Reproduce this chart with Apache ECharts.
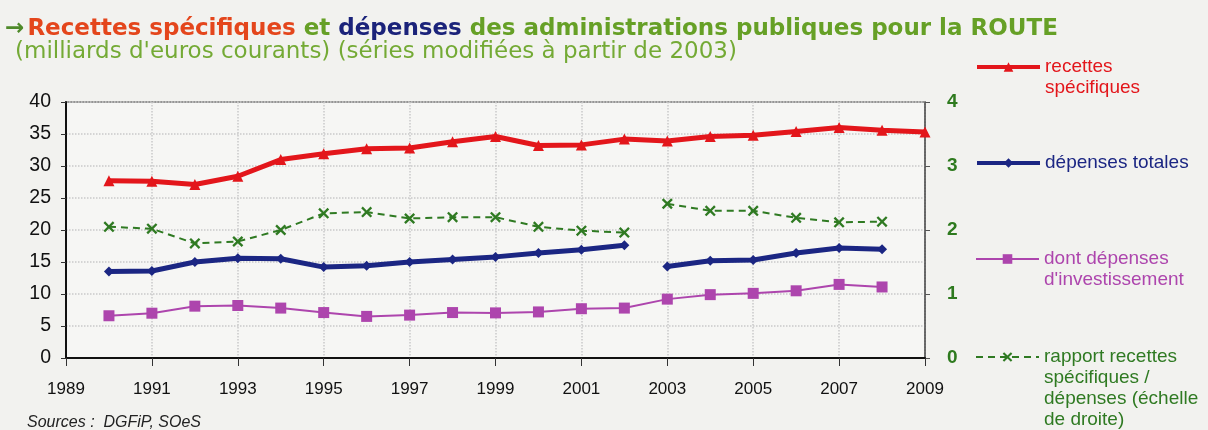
<!DOCTYPE html>
<html>
<head>
<meta charset="utf-8">
<script src="https://cdn.jsdelivr.net/npm/echarts@6/dist/echarts.min.js"></script>
<style>
html, body { margin: 0; padding: 0; background: #f2f2ef; }
#chart { width: 1208px; height: 430px; }
</style>
</head>
<body>
<div id="chart"></div>
<script>
// données (milliards d'euros courants)
var annees = ['1989', '1990', '1991', '1992', '1993', '1994', '1995', '1996', '1997', '1998', '1999',
    '2000', '2001', '2002', '2003', '2004', '2005', '2006', '2007', '2008', '2009'];
var recettes = [null, 27.7, 27.6, 27.1, 28.4, 31.0, 31.9, 32.7, 32.8, 33.8, 34.6,
    33.2, 33.3, 34.2, 33.9, 34.6, 34.8, 35.4, 36.0, 35.6, 35.3];
var depensesTotales = [null, 13.5, 13.6, 15.0, 15.6, 15.5, 14.2, 14.4, 15.0, 15.4, 15.8,
    16.4, 16.9, 17.6, 14.3, 15.2, 15.3, 16.4, 17.2, 17.0, null];
var depensesInvest = [null, 6.6, 7.0, 8.1, 8.2, 7.8, 7.1, 6.5, 6.7, 7.1, 7.05,
    7.2, 7.7, 7.8, 9.2, 9.9, 10.1, 10.5, 11.5, 11.1, null];
var rapport = [null, 2.05, 2.02, 1.79, 1.82, 2.00, 2.26, 2.28, 2.18, 2.20, 2.20,
    2.05, 1.99, 1.96, 2.41, 2.30, 2.30, 2.19, 2.12, 2.13, null];
var anneeRupture = '2003'; // séries modifiées à partir de 2003
var ticksGauche = [0, 40, 5];
var ticksDroite = [0, 4, 1];

var RED = '#e3161b', NAVY = '#1b2683', PURPLE = '#ad45ad', DKGREEN = '#2f7a22';

// coupe une série en deux morceaux (avant / après la rupture)
function morceau(arr, avant) {
    var k = annees.indexOf(anneeRupture);
    return arr.map(function (v, i) { return (i < k) === avant ? v : null; });
}

var croix = 'path://M0,1.5L1.5,0L5,3.5L8.5,0L10,1.5L6.5,5L10,8.5L8.5,10L5,6.5L1.5,10L0,8.5L3.5,5Z';

var myChart = echarts.init(document.getElementById('chart'));

var LH = 21;
// legende sur plusieurs lignes : lignes vides devant pour que le symbole reste sur la 1re ligne
function legende(nom, centre, couleur, lignes, epaisseur) {
    var n = lignes.length;
    var texte = new Array(n).join('\n') + lignes.join('\n');
    return {
        orient: 'vertical',
        left: 975,
        top: centre - (2 * n - 1) * LH / 2,
        padding: 0,
        itemWidth: 63,
        itemHeight: 12,
        selectedMode: false,
        data: [nom],
        lineStyle: { width: epaisseur },
        formatter: function () { return texte; },
        textStyle: { color: couleur, fontSize: 19, fontFamily: 'Liberation Sans', lineHeight: LH }
    };
}

var option = {
    backgroundColor: '#f2f2ef',
    animation: false,
    title: [{
        left: 0,
        top: 13,
        text: '{a|→}{s| }{r|Recettes spécifiques}{g| et }{b|dépenses}{g| des administrations publiques pour la ROUTE}',
        textStyle: {
            rich: {
                a: { color: '#4f8a2a', fontSize: 23, fontWeight: 'bold', fontFamily: 'DejaVu Sans' },
                s: { fontSize: 9, fontFamily: 'DejaVu Sans' },
                r: { color: '#e4461c', fontSize: 23, fontWeight: 'bold', fontFamily: 'DejaVu Sans' },
                g: { color: '#66a026', fontSize: 23, fontWeight: 'bold', fontFamily: 'DejaVu Sans' },
                b: { color: '#1b237a', fontSize: 23, fontWeight: 'bold', fontFamily: 'DejaVu Sans' }
            }
        }
    }, {
        left: 10,
        top: 36,
        text: "(milliards d'euros courants) (séries modifiées à partir de 2003)",
        textStyle: { color: '#74aa35', fontSize: 23, fontWeight: 'normal', fontFamily: 'DejaVu Sans' }
    }, {
        left: 22,
        top: 410,
        text: 'Sources :  DGFiP, SOeS',
        textStyle: { color: '#222', fontSize: 16, fontWeight: 'normal', fontStyle: 'italic', fontFamily: 'Liberation Sans' }
    }],
    legend: [
        legende('recettes spécifiques', 67, RED, ['recettes', 'spécifiques'], 4),
        legende('dépenses totales', 163, NAVY, ['dépenses totales'], 4),
        legende("dont dépenses d'investissement", 259, PURPLE, ['dont dépenses', "d'investissement"], 2),
        legende('rapport recettes spécifiques / dépenses (échelle de droite)', 357, DKGREEN,
            ['rapport recettes', 'spécifiques /', 'dépenses (échelle', 'de droite)'], 2)
    ],
    grid: {
        left: 66, right: 283, top: 102, bottom: 72,
        show: true, borderColor: '#777', borderWidth: 1.5, backgroundColor: '#f6f6f4'
    },
    xAxis: {
        type: 'category',
        data: annees,
        boundaryGap: false,
        axisLine: { lineStyle: { color: '#111', width: 2 } },
        axisTick: { interval: 1, length: 8, lineStyle: { color: '#333' } },
        axisLabel: { interval: 1, margin: 23, color: '#111', fontSize: 17, fontFamily: 'Liberation Sans' },
        splitLine: { show: true, interval: 1, lineStyle: { color: '#c9c9c9', type: 'dotted', width: 1.5 } }
    },
    yAxis: [{
        type: 'value',
        min: ticksGauche[0], max: ticksGauche[1], interval: ticksGauche[2],
        axisLine: { show: true, lineStyle: { color: '#111', width: 2 } },
        axisTick: { show: true, length: 5, lineStyle: { color: '#333' } },
        axisLabel: { margin: 15, color: '#111', fontSize: 19.5, fontFamily: 'Liberation Sans' },
        splitLine: { lineStyle: { color: '#c9c9c9', type: 'dotted', width: 1.5 } }
    }, {
        type: 'value',
        position: 'right',
        min: ticksDroite[0], max: ticksDroite[1], interval: ticksDroite[2],
        axisLine: { show: true, lineStyle: { color: '#555', width: 1.5 } },
        axisTick: { show: true, length: 5, lineStyle: { color: '#555' } },
        axisLabel: { margin: 22, color: '#2e7a1e', fontSize: 19, fontWeight: 'bold', fontFamily: 'Liberation Sans' },
        splitLine: { show: false }
    }],
    series: [{
        name: 'recettes spécifiques',
        type: 'line',
        data: recettes,
        symbol: 'triangle', symbolSize: 11,
        lineStyle: { color: RED, width: 5 },
        itemStyle: { color: RED },
        z: 5
    }, {
        name: 'dépenses totales',
        type: 'line',
        data: morceau(depensesTotales, true),
        symbol: 'diamond', symbolSize: 10,
        lineStyle: { color: NAVY, width: 5 },
        itemStyle: { color: NAVY },
        z: 4
    }, {
        name: 'dépenses totales',
        type: 'line',
        data: morceau(depensesTotales, false),
        symbol: 'diamond', symbolSize: 10,
        lineStyle: { color: NAVY, width: 5 },
        itemStyle: { color: NAVY },
        z: 4
    }, {
        name: "dont dépenses d'investissement",
        type: 'line',
        data: depensesInvest,
        symbol: 'rect', symbolSize: 11,
        lineStyle: { color: PURPLE, width: 2 },
        itemStyle: { color: PURPLE },
        z: 3
    }, {
        name: 'rapport recettes spécifiques / dépenses (échelle de droite)',
        type: 'line',
        yAxisIndex: 1,
        data: morceau(rapport, true),
        symbol: croix, symbolSize: 11,
        lineStyle: { color: DKGREEN, width: 2, type: [7, 5] },
        itemStyle: { color: DKGREEN },
        z: 3
    }, {
        name: 'rapport recettes spécifiques / dépenses (échelle de droite)',
        type: 'line',
        yAxisIndex: 1,
        data: morceau(rapport, false),
        symbol: croix, symbolSize: 11,
        lineStyle: { color: DKGREEN, width: 2, type: [7, 5] },
        itemStyle: { color: DKGREEN },
        z: 3
    }]
};

myChart.setOption(option);
</script>
</body>
</html>
